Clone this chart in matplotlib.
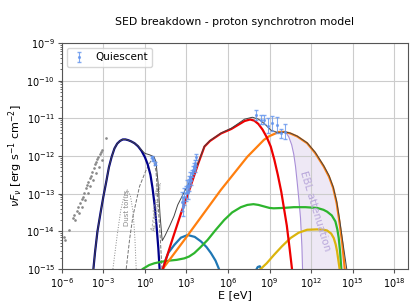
import numpy as np
import matplotlib.pyplot as plt
from matplotlib.ticker import NullFormatter

# all values are log10(E / eV) and log10(nuFnu / erg s-1 cm-2)
blue_logE = [-3.72, -3.6, -3.43, -3.2, -3.0, -2.8, -2.6, -2.4, -2.2, -2.0, -1.8, -1.6, -1.4, -1.2, -1.0,
             -0.75, -0.5, -0.25, 0.0, 0.2, 0.4, 0.55, 0.7, 0.85, 0.97, 1.07]
blue_logF = [-15.0, -14.55, -14.01, -13.5, -13.08, -12.7, -12.3, -12.02, -11.8, -11.67, -11.6, -11.56,
             -11.56, -11.58, -11.61, -11.66, -11.74, -11.86, -12.03, -12.22, -12.5, -12.85, -13.3, -13.9,
             -14.45, -15.05]

red_logE = [1.3, 2.0, 2.61, 3.21, 3.85, 4.3, 4.7, 5.5, 6.25, 7.2, 7.6, 7.9, 8.2, 8.5, 8.8, 9.09, 9.35,
            9.6, 9.85, 10.05, 10.25, 10.45, 10.64]
red_logF = [-15.0, -14.2, -13.52, -12.9, -12.2, -11.75, -11.6, -11.4, -11.28, -11.07, -11.03, -11.06,
            -11.15, -11.3, -11.5, -11.75, -12.1, -12.5, -12.95, -13.4, -13.85, -14.45, -15.05]

orange_logE = [1.29, 2.85, 5.49, 7.4, 8.6, 9.0, 9.68, 10.1, 10.5, 11.0, 11.72, 12.3, 12.92, 13.3, 13.6,
               13.85, 14.05, 14.25, 14.45]
orange_logF = [-15.0, -14.23, -12.9, -12.02, -11.57, -11.47, -11.36, -11.36, -11.4, -11.48, -11.66,
               -11.92, -12.28, -12.55, -12.85, -13.25, -13.75, -14.3, -15.05]

green_logE = [-0.15, 0.3, 0.69, 1.2, 1.77, 2.3, 2.85, 3.2, 3.57, 4.0, 4.53, 5.1, 5.73, 6.3, 6.93, 7.4,
              7.84, 8.2, 8.6, 9.0, 9.3, 10.0, 10.76, 11.6, 12.44, 12.9, 13.16, 13.5, 13.76, 13.9, 14.0,
              14.1, 14.19]
green_logF = [-15.0, -14.9, -14.85, -14.81, -14.78, -14.76, -14.72, -14.67, -14.58, -14.43, -14.23,
              -13.97, -13.7, -13.5, -13.36, -13.3, -13.28, -13.3, -13.34, -13.38, -13.39, -13.38, -13.36,
              -13.36, -13.38, -13.43, -13.48, -13.58, -13.74, -13.95, -14.18, -14.55, -15.02]

cyan_logE = [1.3, 1.5, 1.7, 2.13, 2.6, 3.09, 3.6, 4.05, 4.45, 4.77, 5.1, 5.37]
cyan_logF = [-15.0, -14.75, -14.57, -14.36, -14.17, -14.1, -14.15, -14.27, -14.42, -14.58, -14.78, -15.02]
cyan2_logE = [8.0, 8.15, 8.3, 8.45]
cyan2_logF = [-15.05, -14.95, -14.93, -15.05]

yellow_logE = [8.37, 8.8, 9.32, 9.9, 10.52, 11.1, 11.72, 12.44, 12.9, 13.16, 13.45, 13.64, 13.78, 13.88, 14.07]
yellow_logF = [-15.0, -14.85, -14.63, -14.4, -14.18, -14.04, -13.96, -13.95, -13.96, -13.98, -14.06,
               -14.18, -14.35, -14.53, -15.02]

ebl_logE = [10.2, 10.4, 10.6, 10.75, 10.88, 11.0, 11.12, 11.24, 11.34, 11.39]
ebl_logF = [-11.38, -11.5, -11.7, -11.95, -12.28, -12.7, -13.15, -13.65, -14.4, -15.05]

total_logE = [-3.72, -3.6, -3.43, -3.2, -3.0, -2.8, -2.6, -2.4, -2.2, -2.0, -1.8, -1.6, -1.4, -1.2, -1.0,
              -0.75, -0.5, -0.25, 0.0, 0.35, 0.65, 0.8, 0.95, 1.1, 1.25, 1.45, 1.8, 2.1, 2.37, 2.85, 3.21,
              3.85, 4.3, 4.7, 5.5, 6.25, 7.2, 7.76, 8.2, 8.6, 9.09, 9.68, 10.1, 10.5, 11.0, 11.72, 12.3,
              12.92, 13.3, 13.6, 13.85, 14.05, 14.3, 14.6]
total_logF = [-15.0, -14.55, -14.01, -13.5, -13.08, -12.7, -12.3, -12.02, -11.8, -11.67, -11.6, -11.56,
              -11.56, -11.58, -11.61, -11.66, -11.73, -11.84, -11.93, -11.97, -12.02, -12.15, -12.7,
              -13.6, -14.25, -14.12, -13.85, -13.6, -13.3, -12.95, -12.7, -12.18, -11.74, -11.59, -11.39,
              -11.26, -11.02, -10.97, -11.02, -11.13, -11.31, -11.39, -11.36, -11.39, -11.47, -11.65,
              -11.9, -12.26, -12.52, -12.82, -13.2, -13.65, -14.3, -15.05]

torus_logE = [-2.31, -2.0, -1.75, -1.5, -1.27, -1.05, -0.85, -0.72, -0.63]
torus_logF = [-15.0, -14.1, -13.45, -13.05, -12.9, -13.05, -13.5, -14.2, -15.0]

disk_logE = [-1.35, -1.1, -0.87, -0.39, 0.09, 0.4, 0.6, 0.8, 0.93, 1.1, 1.23]
disk_logF = [-15.0, -14.2, -13.61, -12.81, -12.37, -12.15, -12.08, -12.4, -13.17, -14.1, -15.0]

# archival low-energy points (grey)
arch_logE = [-5.83, -5.76, -5.47, -5.18, -5.09, -5.04, -4.90, -4.80, -4.75, -4.66, -4.56, -4.51, -4.47,
             -4.37, -4.32, -4.27, -4.18, -4.13, -4.08, -3.99, -3.94, -3.87, -3.79, -3.75, -3.67, -3.60,
             -3.55, -3.51, -3.43, -3.36, -3.31, -3.27, -3.19, -3.12, -3.07, -2.79]
arch_logF = [-14.16, -14.23, -13.96, -13.65, -13.57, -13.70, -13.45, -13.36, -13.52, -13.24, -13.15,
             -13.36, -13.08, -12.97, -13.17, -12.86, -12.77, -12.99, -12.68, -12.59, -12.81, -12.53,
             -12.42, -12.64, -12.33, -12.21, -12.46, -12.15, -12.09, -12.02, -12.28, -11.95, -11.89,
             -12.11, -11.84, -11.51]

# quiescent data: optical, X-ray, gamma-ray
q_logE = [0.5, 0.6, 0.7,
          2.68, 2.78, 2.85, 2.97, 3.02, 3.09, 3.16, 3.21, 3.28, 3.33, 3.40, 3.45, 3.52, 3.59, 3.64, 3.69,
          8.05, 8.37, 8.6, 8.91, 9.2, 9.52, 9.8, 10.11]
q_logF = [-12.03, -12.1, -12.2,
          -13.21, -13.35, -13.08, -12.99, -12.81, -12.95, -12.68, -12.77, -12.55, -12.64, -12.46, -12.37,
          -12.28, -12.33, -12.19, -12.02,
          -10.91, -11.03, -11.04, -11.2, -11.13, -11.18, -11.4, -11.35]
q_err = [0.03, 0.03, 0.03,
         0.25, 0.25, 0.22, 0.2, 0.18, 0.18, 0.15, 0.15, 0.12, 0.12, 0.1, 0.1, 0.1, 0.1, 0.08, 0.08,
         0.12, 0.12, 0.12, 0.2, 0.2, 0.22, 0.12, 0.2]

x_decades = [-6, -3, 0, 3, 6, 9, 12, 15, 18]
y_decades = [-15, -14, -13, -12, -11, -10, -9]

plt.rcParams['font.family'] = 'DejaVu Sans'
fig = plt.figure(figsize=(4.15, 3.08), dpi=100)
ax = fig.add_axes([0.149, 0.127, 0.834, 0.733])


def p(a):
    return 10 ** np.asarray(a, dtype=float)


ax.plot(p(arch_logE), p(arch_logF), ls='none', marker='.', ms=1.8, color='#888888')
ax.plot(p(torus_logE), p(torus_logF), ls=':', lw=0.7, color='#888888')
ax.plot(p(disk_logE), p(disk_logF), ls='--', lw=0.7, color='#777777')

fill_x = np.concatenate([p(ebl_logE), p(orange_logE[7:])[::-1]])
fill_y = np.concatenate([p(ebl_logF), p(orange_logF[7:])[::-1]])
ax.fill(fill_x, fill_y, color='#eee8f5', lw=0)
ax.plot(p(ebl_logE), p(ebl_logF), color='#a98fd8', lw=0.8)

ax.plot(p(blue_logE), p(blue_logF), color='#00008b', lw=1.6)
ax.plot(p(cyan_logE), p(cyan_logF), color='#1f77b4', lw=1.6)
ax.plot(p(cyan2_logE), p(cyan2_logF), color='#1f77b4', lw=1.6)
ax.plot(p(green_logE), p(green_logF), color='#2db52d', lw=1.6)
ax.plot(p(yellow_logE), p(yellow_logF), color='#dbb40c', lw=1.6)
ax.plot(p(orange_logE), p(orange_logF), color='#ff7f0e', lw=1.6)
ax.plot(p(red_logE), p(red_logF), color='#ee0000', lw=1.6)
ax.plot(p(total_logE), p(total_logF), color='#444444', lw=0.7)

qF = p(q_logF)
lo = qF - p(np.array(q_logF) - np.array(q_err))
hi = p(np.array(q_logF) + np.array(q_err)) - qF
ax.errorbar(p(q_logE), qF, yerr=[lo, hi], fmt='.', ms=2.5, color='#6495ed', ecolor='#6495ed',
            elinewidth=0.8, capsize=1.2, alpha=0.8, label='Quiescent')

ax.text(10 ** -1.27, 10 ** -13.39, 'Dust torus', rotation=90, fontsize=5, color='#888888',
        ha='center', va='center')
ax.text(10 ** 0.85, 10 ** -13.35, 'Accretion disk', rotation=83, fontsize=5, color='#888888',
        ha='center', va='center')
ax.text(10 ** 12.3, 10 ** -13.45, 'EBL attenuation', rotation=-73, fontsize=7.5, color='#b9a8db',
        ha='center', va='center')

ax.set_xscale('log')
ax.set_yscale('log')
ax.set_xticks(p(x_decades))
ax.set_yticks(p(y_decades))
ax.set_xlim(1e-6, 1e19)
ax.set_ylim(1e-15, 1e-9)
ax.xaxis.set_minor_formatter(NullFormatter())
ax.yaxis.set_minor_formatter(NullFormatter())
ax.grid(True, which='major', color='#cccccc', lw=0.8)
ax.tick_params(labelsize=7, length=3, pad=2, color='#555555')
ax.tick_params(which='minor', length=1.5, color='#555555')
for s in ax.spines.values():
    s.set_color('#555555')
ax.set_xlabel('E [eV]', fontsize=8, labelpad=0)
ax.set_ylabel(r'$\nu F_\nu$ [erg s$^{-1}$ cm$^{-2}$]', fontsize=8, labelpad=1)
ax.set_title('SED breakdown - proton synchrotron model', fontsize=7.8, pad=13)
ax.legend(loc='upper left', fontsize=7.5, borderaxespad=0.5, handlelength=1.5)

fig.savefig('out.png', dpi=100)
